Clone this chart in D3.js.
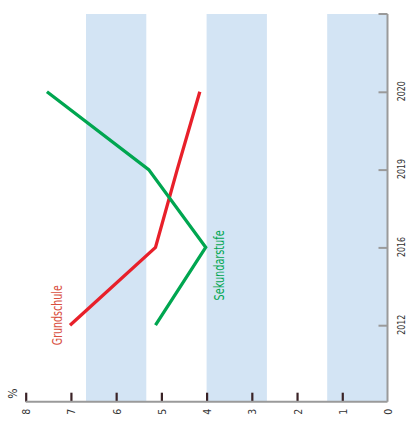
<!DOCTYPE html>
<html><head><meta charset="utf-8">
<script src="https://cdn.jsdelivr.net/npm/d3@7"></script>
<style>body{margin:0;background:#fff}svg{display:block}</style>
</head><body>
<svg id="c" width="409" height="437"></svg>
<script>
const years = ["2012", "2016", "2019", "2020"];
const grundschule = [7.02, 5.13, 4.65, 4.15];
const sekundarstufe = [5.13, 4.02, 5.28, 7.53];
const valueTicks = [0, 1, 2, 3, 4, 5, 6, 7, 8];
const bands = [[0, 4/3], [8/3, 4], [16/3, 20/3]];
const seriesNames = ["Grundschule", "Sekundarstufe"];

const font = "'Liberation Sans Narrow','DejaVu Sans Condensed',sans-serif";
const svg = d3.select("#c");
const x = d3.scaleLinear().domain([0, 8]).range([387.5, 25.7]);
const y = d3.scalePoint().domain(years).range([403, 14]).padding(1);
const axisY = 401.7, plotTop = 14;

svg.append("g").selectAll("rect").data(bands).join("rect")
  .attr("x", d => x(d[1])).attr("width", d => x(d[0]) - x(d[1]))
  .attr("y", plotTop).attr("height", axisY - plotTop).attr("fill", "#d3e4f4");

// right (year) axis
const ya = svg.append("g").attr("transform", `translate(${x(0)},0)`)
  .call(d3.axisRight(y).tickSize(-9).tickSizeOuter(0).tickPadding(8));
ya.select(".domain").remove();
ya.append("line").attr("x1", 0).attr("x2", 0).attr("y1", plotTop).attr("y2", axisY)
  .attr("stroke", "#9a9a9a").attr("stroke-width", 2);
ya.append("line").attr("x1", -9).attr("x2", 0).attr("y1", plotTop).attr("y2", plotTop)
  .attr("stroke", "#9a9a9a").attr("stroke-width", 2);
ya.selectAll(".tick line").attr("stroke", "#9a9a9a").attr("stroke-width", 2);
ya.selectAll(".tick text").attr("font-family", font).attr("font-size", 11).attr("fill", "#333")
  .attr("x", 0).attr("dy", null)
  .attr("text-anchor", "middle")
  .attr("textLength", 20).attr("lengthAdjust", "spacingAndGlyphs")
  .attr("transform", "translate(14,-1) rotate(-90)")
  .attr("dominant-baseline", "central");

// bottom (value) axis
const xa = svg.append("g").attr("transform", `translate(0,${axisY})`)
  .call(d3.axisBottom(x).tickValues(valueTicks).tickFormat(d3.format("d")).tickSize(-9).tickSizeOuter(0));
xa.select(".domain").remove();
xa.append("line").attr("x1", x(8)).attr("x2", x(0)).attr("y1", 0).attr("y2", 0)
  .attr("stroke", "#9a9a9a").attr("stroke-width", 2);
xa.selectAll(".tick line").attr("stroke", "#3a2226").attr("stroke-width", 2.2)
  .attr("opacity", (d) => d === 0 ? 0 : 1);
xa.selectAll(".tick text").attr("font-family", font).attr("font-size", 10.5).attr("fill", "#333")
  .attr("y", 0).attr("dy", null).attr("text-anchor", "middle")
  .attr("dominant-baseline", "central")
  .attr("transform", "translate(0,10) rotate(-90)");

svg.append("text").attr("transform", `translate(13,${axisY - 8}) rotate(-90)`)
  .attr("font-family", font).attr("font-size", 12).attr("fill", "#333")
  .attr("text-anchor", "middle").attr("dominant-baseline", "central").text("%");

const line = d3.line().x(d => x(d[1])).y(d => y(d[0]));
const series = [
  {name: seriesNames[0], vals: grundschule, color: "#e8202a"},
  {name: seriesNames[1], vals: sekundarstufe, color: "#00a650"}
];
series.forEach(s => {
  svg.append("path").datum(years.map((yr, i) => [yr, s.vals[i]]))
    .attr("d", line).attr("fill", "none").attr("stroke", s.color).attr("stroke-width", 3.3)
    .attr("stroke-linejoin", "miter");
});
// labels
svg.append("text").attr("transform", `translate(57,${y("2012") - 10}) rotate(-90)`)
  .attr("font-family", font).attr("font-size", 14).attr("fill", "#d9503f")
  .attr("textLength", 60).attr("lengthAdjust", "spacingAndGlyphs")
  .attr("text-anchor", "middle").attr("dominant-baseline", "central").text(seriesNames[0]);
svg.append("text").attr("transform", `translate(219,${y("2016") + 18}) rotate(-90)`)
  .attr("font-family", font).attr("font-size", 14).attr("fill", "#00a650")
  .attr("textLength", 70).attr("lengthAdjust", "spacingAndGlyphs")
  .attr("text-anchor", "middle").attr("dominant-baseline", "central").text(seriesNames[1]);
</script>
</body></html>
